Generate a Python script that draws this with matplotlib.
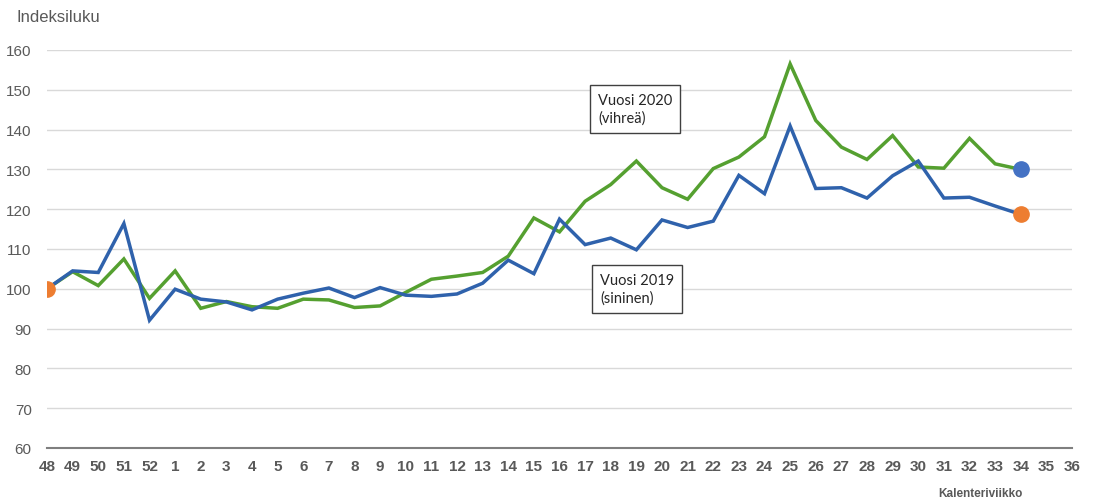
import numpy as np
import matplotlib.pyplot as plt

plt.rcParams['font.family'] = ['Liberation Sans', 'DejaVu Sans']

weeks = ['48', '49', '50', '51', '52'] + [str(w) for w in range(1, 37)]

# 2019 (blue), weeks 48..34
v2019 = [100, 104.5, 104.1, 116.4, 92.1, 99.9, 97.4, 96.7, 94.7, 97.4,
         98.9, 100.2, 97.8, 100.3, 98.4, 98.1, 98.7, 101.4, 107.2, 103.8,
         117.5, 111.1, 112.75, 109.8, 117.3, 115.4, 117.0, 128.5, 123.9, 140.9,
         125.2, 125.4, 122.8, 128.4, 132.1, 122.8, 123.0, 120.8, 118.7]

# 2020 (green), weeks 48..34
v2020 = [100, 104.3, 100.8, 107.5, 97.6, 104.5, 95.1, 96.8, 95.5, 95.1,
         97.4, 97.2, 95.3, 95.7, 99.1, 102.4, 103.2, 104.1, 108.2, 117.8,
         114.3, 122.0, 126.2, 132.1, 125.4, 122.5, 130.2, 133.1, 138.2, 156.5,
         142.3, 135.6, 132.5, 138.5, 130.6, 130.3, 137.8, 131.4, 130.0]

fig = plt.figure(figsize=(10.95, 5.02), dpi=100)
ax = fig.add_axes([47 / 1095, 53 / 502, (1072 - 47) / 1095, (449 - 51) / 502])

x = np.arange(len(v2019))
ax.plot(x, v2020, color='#55A030', lw=2.5, solid_joinstyle='miter', zorder=3)
ax.plot(x, v2019, color='#2F62AC', lw=2.5, solid_joinstyle='miter', zorder=4)

# start and end markers
ax.plot(x[0], v2019[0], 'o', color='#ED7D31', ms=11, zorder=5)
ax.plot(x[-1], v2019[-1], 'o', color='#ED7D31', ms=11, zorder=5)
ax.plot(x[-1], v2020[-1], 'o', color='#4472C4', ms=11, zorder=5)

ax.set_xlim(0, len(weeks) - 1)
ax.set_ylim(60, 160)
ax.set_xticks(np.arange(len(weeks)))
ax.set_xticklabels(weeks, fontweight='bold', fontsize=11, color='#595959')
ax.set_yticks(np.arange(60, 161, 10))
ax.tick_params(axis='y', labelsize=11, labelcolor='#595959', length=0, pad=11)
ax.tick_params(axis='x', length=0, pad=8)
ax.grid(axis='y', color='#d9d9d9', lw=1)
ax.set_axisbelow(True)
for s in ['top', 'right', 'left']:
    ax.spines[s].set_visible(False)
ax.spines['bottom'].set_color('#7f7f7f')
ax.spines['bottom'].set_linewidth(1.5)
ax.spines['bottom'].set_zorder(2)

fig.text(17 / 1095, 1 - 18 / 502, 'Indeksiluku', fontsize=12, color='#595959', va='center')
fig.text(980 / 1095, 1 - 494 / 502, 'Kalenteriviikko', fontsize=8.5, fontweight='bold',
         color='#595959', ha='center', va='center')

box = dict(boxstyle='square,pad=0.55', facecolor='white', edgecolor='#404040', lw=1)
fig.text(598 / 1095, 1 - 110 / 502, 'Vuosi 2020\n(vihreä)', fontsize=10.5, family=['Lato', 'DejaVu Sans'],
         color='#262626', va='center', ha='left', bbox=box, linespacing=1.3)
fig.text(600 / 1095, 1 - 290 / 502, 'Vuosi 2019\n(sininen)', fontsize=10.5, family=['Lato', 'DejaVu Sans'],
         color='#262626', va='center', ha='left', bbox=box, linespacing=1.3)

fig.savefig('out.png', dpi=100)
